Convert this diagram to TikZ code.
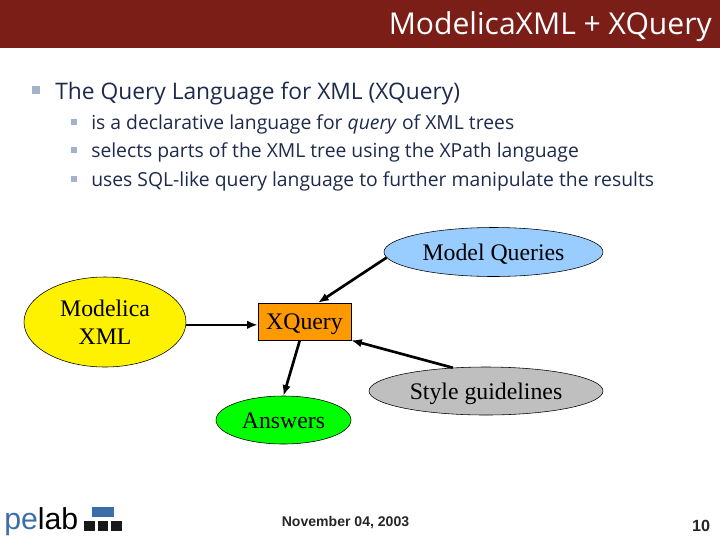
\documentclass[tikz,border=0pt]{standalone}
\usepackage{fontspec}
\setmainfont{Liberation Serif}
\setsansfont{Open Sans}
\newfontfamily\footfont{Liberation Sans}
\usetikzlibrary{arrows.meta, positioning, calc, shapes.geometric}
\definecolor{barred}{HTML}{7B1E17}
\definecolor{bodyink}{HTML}{1E2A4C}
\definecolor{bulletblue}{HTML}{A3B3CC}
\definecolor{queryblue}{HTML}{99CCFF}
\definecolor{xqorange}{HTML}{FF9900}
\definecolor{logoblue}{HTML}{3A6EA8}

\begin{document}
\begin{tikzpicture}[
  x=0.025cm, y=-0.025cm,
  oval/.style={draw, ellipse, inner sep=0pt, font=\fontsize{16.9}{20}\selectfont, align=center},
  box/.style={draw, inner sep=0pt, font=\fontsize{16.9}{20}\selectfont},
  oneline/.style={text height=15.5pt, text depth=3.8pt},
  arr/.style={-{Latex[length=7.5pt,width=6pt]}, line width=1.9pt, black},
  lvl1/.style={anchor=west, inner sep=0pt, text=bodyink, font=\sffamily\fontsize{16.2}{18}\selectfont},
  lvl2/.style={anchor=west, inner sep=0pt, text=bodyink, font=\sffamily\fontsize{13.75}{16}\selectfont},
  bul/.style={fill=bulletblue, inner sep=0pt, minimum size=#1},
  foot/.style={inner sep=0pt, font=\footfont\bfseries\fontsize{10}{11}\selectfont, text=black!85},
]
\useasboundingbox (0,0) rectangle (720,540);

% Title bar
\fill[barred] (0,0) rectangle (720,48);
\node[anchor=east, inner sep=0pt, text=white, font=\sffamily\fontsize{21.4}{24}\selectfont] (title) at (712,27) {ModelicaXML + XQuery};

% Bullets
\node[bul=5.5pt] (b0) at (36,90) {};
\node[lvl1] (t0) at (55,94) {The Query Language for XML (XQuery)};
\node[bul=4pt] (b1) at (74,122) {};
\node[lvl2] (t1) at (91,124) {is a declarative language for \emph{query} of XML trees};
\node[bul=4pt] (b2) at (74,150) {};
\node[lvl2] (t2) at (91,152) {selects parts of the XML tree using the XPath language};
\node[bul=4pt] (b3) at (74,179) {};
\node[lvl2] (t3) at (91,181) {uses SQL-like query language to further manipulate the results};

% Diagram
\node[oval, oneline, fill=queryblue, minimum width=219*0.025cm, minimum height=49*0.025cm] (mq) at (493.5,252) {Model Queries};
\node[oval, fill=yellow, minimum width=162*0.025cm, minimum height=90*0.025cm] (mx) at (105,322) {Modelica\\XML};
\node[box, oneline, fill=xqorange, minimum width=93*0.025cm, minimum height=37*0.025cm] (xq) at (304.5,321.5) {XQuery};
\node[oval, oneline, fill=gray!50, minimum width=234*0.025cm, minimum height=48*0.025cm] (sg) at (486,391) {Style guidelines};
\node[oval, oneline, fill=green, minimum width=135*0.025cm, minimum height=48*0.025cm] (ans) at (283.5,420) {Answers};

% Edges
\draw[arr] (mq.183) -- (xq.54);
\draw[arr] (mx.358) -- (mx.358 -| xq.west);
\draw[arr] (sg.145) -- (xq.south east);
\draw[arr] (xq.256) -- (ans.north);

% Footer
\node[foot] (date) at (345.5,522.5) {November 04, 2003};
\node[foot, font=\footfont\bfseries\fontsize{11.5}{13}\selectfont] (page) at (701,526) {10};

% Logo
\node[anchor=base west, inner sep=0pt, font=\footfont\fontsize{21.5}{26}\selectfont] (logo) at (4,529) {\textcolor{logoblue}{pe}lab};
\foreach \x in {92,103} \fill[logoblue] (\x,507) rectangle +(10.5,10);
\foreach \x in {84,97.5,111} \fill[black!90] (\x,521) rectangle +(10.5,10);
\end{tikzpicture}
\end{document}
